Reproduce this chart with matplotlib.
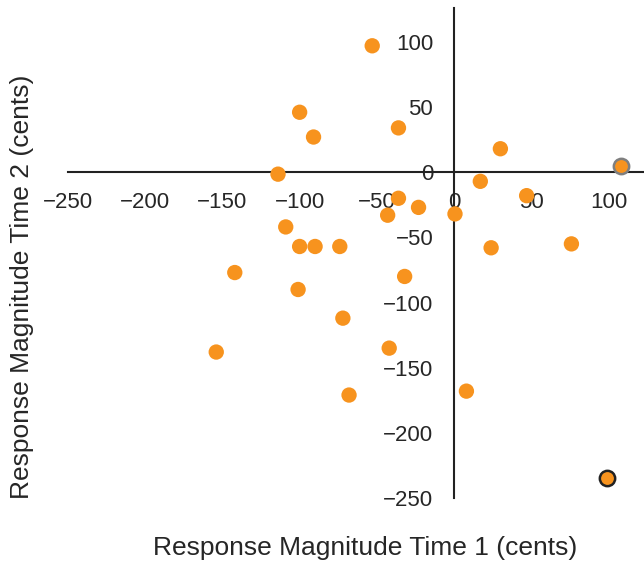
import matplotlib
matplotlib.use("Agg")
import matplotlib.pyplot as plt

time1 = [-53, -100, -91, -36, -114, 30, 17, 47, -36, -23, -43, 0.6, -109,
         -100, -90, -74, 24, 76, -32, -142, -101, -72, -42, -154, -68, 8]
time2 = [97, 46, 27, 34, -1.5, 18, -7, -18, -20, -27, -33, -32, -42,
         -57, -57, -57, -58, -55, -80, -77, -90, -112, -135, -138, -171, -168]
grey_pt = ([108], [5])
black_pt = ([99], [-235])

xticks = [-250, -200, -150, -100, -50, 0, 50, 100]
yticks = [-250, -200, -150, -100, -50, 0, 50, 100]

plt.rcParams['font.family'] = ['Liberation Sans', 'DejaVu Sans']
orange = '#f7931e'

fig = plt.figure(figsize=(6.44, 5.63), dpi=100)
ax = fig.add_axes([68/644, 1-498/563, 1-68/644, (498-8)/563])
ax.scatter(time1, time2, s=122, color=orange, edgecolors='none', zorder=3)
ax.scatter(*grey_pt, s=122, color=orange, edgecolors='#7f7f7f', linewidths=1.8, zorder=3)
ax.scatter(*black_pt, s=122, color=orange, edgecolors='#222222', linewidths=1.8, zorder=3)

ax.set_xlim(-250, 123)
ax.set_ylim(-250, 126)
for s in ['top', 'right']:
    ax.spines[s].set_visible(False)
ax.spines['left'].set_position(('data', 0))
ax.spines['bottom'].set_position(('data', 0))
for s in ['left', 'bottom']:
    ax.spines[s].set_color('#222222')
    ax.spines[s].set_linewidth(1.5)
ax.set_xticks(xticks)
ax.set_yticks(yticks)
ax.tick_params(axis='x', length=0, pad=14, labelsize=16, labelcolor='#262626')
ax.tick_params(axis='y', length=0, pad=15, labelsize=16, labelcolor='#262626')
ax.patch.set_alpha(0)

fig.text(365/644, 1-548/563, 'Response Magnitude Time 1 (cents)', ha='center', va='center',
         fontsize=19, color='#262626')
fig.text(22/644, 1-287/563, 'Response Magnitude Time 2 (cents)', ha='center', va='center',
         rotation=90, fontsize=19, color='#262626')

fig.savefig('out.png', dpi=100)
